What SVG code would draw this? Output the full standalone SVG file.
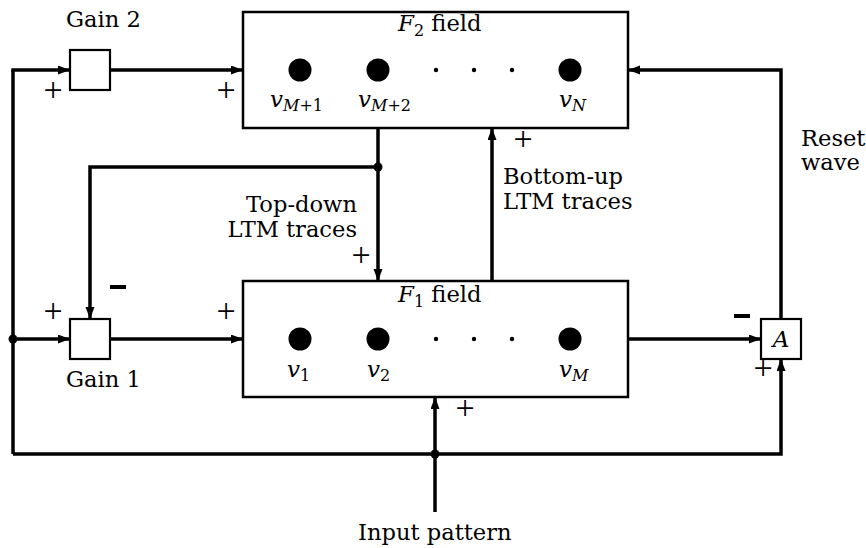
<svg xmlns="http://www.w3.org/2000/svg" width="866" height="548" viewBox="0 0 866 548">
<defs>
<marker id="arr" markerWidth="13" markerHeight="10" refX="12" refY="4.5" orient="auto" markerUnits="userSpaceOnUse">
<path d="M0,0 L12,4.5 L0,9 z" fill="#000"/>
</marker>
</defs>
<style>
.box{fill:#fff;stroke:#000;stroke-width:2.5}
.small{fill:#fff;stroke:#000;stroke-width:2.2}
.con{fill:none;stroke:#000;stroke-width:3.5;marker-end:url(#arr)}
.line{fill:none;stroke:#000;stroke-width:3.5}
.t{font-family:"DejaVu Serif","Liberation Serif",serif;font-size:22.6px;fill:#000}
.m{font-family:"DejaVu Serif","Liberation Serif",serif;font-style:italic;font-size:23px;fill:#000}
.sub{font-family:"DejaVu Serif","Liberation Serif",serif;font-style:normal;font-size:16px}
.subi{font-family:"DejaVu Serif","Liberation Serif",serif;font-style:italic;font-size:16px}
.pl{font-family:"Liberation Serif",serif;font-size:34px;fill:#000;text-anchor:middle}
.mi{fill:#000}
</style>
<g id="connectors">
<path class="line" d="M13,454 V70"/>
<path class="con" d="M11.3,70 H70"/>
<path class="con" d="M110,70 H243"/>
<path class="con" d="M781,319 V70 H628"/>
<path class="con" d="M13,454 H781 V359"/>
<path class="con" d="M13,339 H70"/>
<path class="con" d="M110,339 H243"/>
<path class="con" d="M628,339 H761"/>
<path class="con" d="M378,128 V281"/>
<path class="con" d="M378,167 H90 V319"/>
<path class="con" d="M492,281 V128"/>
<path class="con" d="M435,512 V397"/>
<circle cx="13" cy="339" r="4.5"/>
<circle cx="378" cy="167" r="4.5"/>
<circle cx="435" cy="454" r="4.5"/>
</g>
<g id="F2">
<rect class="box" x="243" y="12" width="385" height="116"/>
<text class="t" x="398" y="31"><tspan class="m">F</tspan><tspan class="sub" dy="5">2</tspan><tspan dy="-5"> field</tspan></text>
<circle cx="300" cy="70" r="11.5"/>
<circle cx="378" cy="70" r="11.5"/>
<circle cx="570" cy="70" r="11.5"/>
<circle cx="436" cy="70" r="2.2"/>
<circle cx="474" cy="70" r="2.2"/>
<circle cx="512" cy="70" r="2.2"/>
<text class="m" x="270" y="107">v<tspan class="subi" dy="4">M</tspan><tspan class="sub">+1</tspan></text>
<text class="m" x="358" y="107">v<tspan class="subi" dy="4">M</tspan><tspan class="sub">+2</tspan></text>
<text class="m" x="559" y="107">v<tspan class="subi" dy="4">N</tspan></text>
</g>
<g id="F1">
<rect class="box" x="243" y="281" width="385" height="116"/>
<text class="t" x="398" y="302"><tspan class="m">F</tspan><tspan class="sub" dy="5">1</tspan><tspan dy="-5"> field</tspan></text>
<circle cx="300" cy="339" r="11.5"/>
<circle cx="378" cy="339" r="11.5"/>
<circle cx="570" cy="339" r="11.5"/>
<circle cx="436" cy="339" r="2.2"/>
<circle cx="474" cy="339" r="2.2"/>
<circle cx="512" cy="339" r="2.2"/>
<text class="m" x="287" y="377">v<tspan class="sub" dy="4">1</tspan></text>
<text class="m" x="367" y="377">v<tspan class="sub" dy="4">2</tspan></text>
<text class="m" x="559" y="377">v<tspan class="subi" dy="4">M</tspan></text>
</g>
<g id="gain2">
<rect class="small" x="70" y="50" width="40" height="40"/>
<text class="t" x="66" y="27">Gain 2</text>
</g>
<g id="gain1">
<rect class="small" x="70" y="319" width="40" height="40"/>
<text class="t" x="66" y="387">Gain 1</text>
</g>
<g id="A">
<rect class="small" x="761" y="319" width="40" height="40"/>
<text class="m" x="781" y="347" text-anchor="middle">A</text>
</g>
<g id="labels">
<text class="t" x="357" y="212" text-anchor="end">Top-down</text>
<text class="t" x="357" y="237" text-anchor="end">LTM traces</text>
<text class="t" x="503" y="184">Bottom-up</text>
<text class="t" x="503" y="209">LTM traces</text>
<text class="t" x="801" y="146">Reset</text>
<text class="t" x="801" y="170">wave</text>
<text class="t" x="358" y="540">Input pattern</text>
<text class="pl" x="53" y="101">+</text>
<text class="pl" x="226" y="101">+</text>
<text class="pl" x="523" y="150">+</text>
<text class="pl" x="53" y="322">+</text>
<text class="pl" x="226" y="322">+</text>
<text class="pl" x="361" y="266">+</text>
<text class="pl" x="465" y="419">+</text>
<text class="pl" x="763" y="379">+</text>
<rect class="mi" x="110" y="285" width="16" height="4"/>
<rect class="mi" x="734" y="314" width="16" height="4"/>
</g>
</svg>
